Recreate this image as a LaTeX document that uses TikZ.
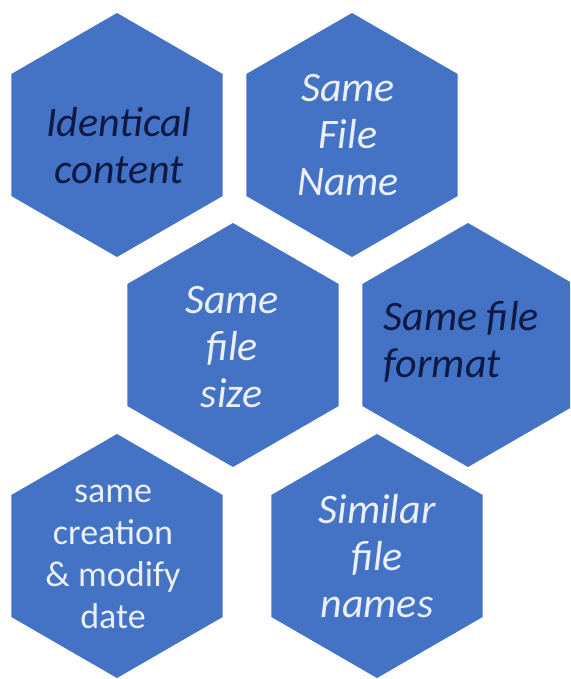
\documentclass[tikz,border=0pt]{standalone}
\usepackage{fontspec}
\setmainfont{Carlito}
\usepackage{xcolor}
\usetikzlibrary{shapes.geometric}
\definecolor{cellblue}{HTML}{4472C4}
\definecolor{lighttext}{HTML}{EAF0FA}
\definecolor{darktext}{HTML}{0C1A45}

\begin{document}
\begin{tikzpicture}[x=1pt, y=-1pt,
        cell/.style={regular polygon, regular polygon sides=6, shape border rotate=30,
            minimum size=244pt, inner sep=0pt, fill=cellblue},
        lbl/.style={align=center, font=\itshape\fontsize{42}{47}\selectfont},
        plain/.style={align=center, font=\fontsize{36}{42}\selectfont}]
        \clip (0, 0) rectangle (570, 679);

        \node[cell] (c1) at (117, 135) {};
        \node[cell] (c2) at (352, 135) {};
        \node[cell] (c3) at (233, 345) {};
        \node[cell] (c4) at (468, 345) {};
        \node[cell] (c5) at (117, 556) {};
        \node[cell] (c6) at (377, 556) {};

        \node[lbl, darktext] (t1) at (119, 146) {Identical\\content};
        \node[lbl, lighttext] (t2) at (348, 135) {Same\\File\\Name};
        \node[lbl, lighttext] (t3) at (232, 347) {Same\\file\\size};
        \node[lbl, darktext, align=left, anchor=west] (t4) at (380, 342) {Same file\\format};
        \node[plain, lighttext] (t5) at (113, 557) {same\\creation\\\& modify\\date};
        \node[lbl, lighttext] (t6) at (377, 556) {Similar\\file\\names};
\end{tikzpicture}
\end{document}
